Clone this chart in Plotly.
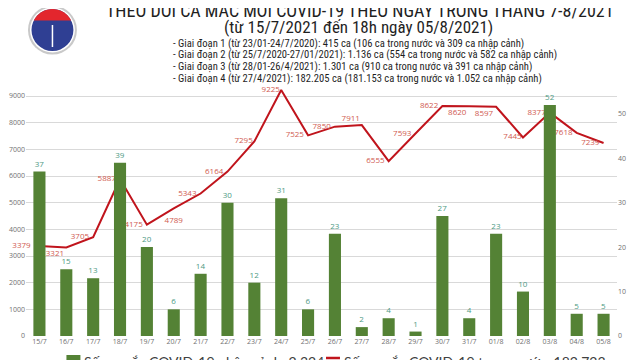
import numpy as np
import plotly.graph_objects as go

dates = ["15/7", "16/7", "17/7", "18/7", "19/7", "20/7", "21/7", "22/7", "23/7", "24/7", "25/7",
         "26/7", "27/7", "28/7", "29/7", "30/7", "31/7", "01/8", "02/8", "03/8", "04/8", "05/8"]
imported = [37, 15, 13, 39, 20, 6, 14, 30, 12, 31, 6, 23, 2, 4, 1, 27, 4, 23, 10, 52, 5, 5]
domestic = [3379, 3321, 3705, 5887, 4175, 4789, 5343, 6164, 7295, 9225, 7525, 7850, 7911, 6555,
            7593, 8622, 8620, 8597, 7445, 8377, 7618, 7239]

# label placement for the line's data labels (style only)
lbl_pos = ["middle left", "bottom left", "middle left", "middle left", "middle left", "bottom center",
           "middle left", "middle left", "middle left", "middle left", "middle left", "middle left",
           "top left", "middle left", "middle left", "middle left", "bottom left", "bottom left",
           "middle left", "middle left", "middle left", "middle left"]
lbl_pad = [12.5, 2, 5, 5, 5, 12.5, 5, 5, 1, 0.5, 5, 5, 1.5, 5, 5, 5, 3, 3.2, 0.5, 5, 5, 5]

title1 = "THEO DÕI CA MẮC MỚI COVID-19 THEO NGÀY TRONG THÁNG 7-8/2021"
title2 = "(từ 15/7/2021 đến 18h ngày 05/8/2021)"
notes = [
    "- Giai đoạn 1 (từ 23/01-24/7/2020): 415 ca (106 ca trong nước và 309 ca nhập cảnh)",
    "- Giai đoạn 2 (từ 25/7/2020-27/01/2021): 1.136 ca (554 ca trong nước và 582 ca nhập cảnh)",
    "- Giai đoạn 3 (từ 28/01-26/4/2021): 1.301 ca (910 ca trong nước và 391 ca nhập cảnh)",
    "- Giai đoạn 4 (từ 27/4/2021): 182.205 ca (181.153 ca trong nước và 1.052 ca nhập cảnh)",
]
legend_bar = "Số ca mắc COVID-19 nhập cảnh: 2.324 ca"
legend_line = "Số ca mắc COVID-19 trong nước: 182.723 ca"

OFF = 8
W, H = 640, 360
L, R, T, B = 17.5, 30.5, 80, 32
PW, PH = W - L - R, H - T - B


def px(x):
    return (x - OFF - L) / PW


def py(y):
    return (H - B - (y - OFF)) / PH


NARROW = "Liberation Sans Narrow, Roboto Condensed, Arial Narrow, sans-serif"
TICKFONT = dict(size=7, color="#707070", family="Open Sans")

fig = go.Figure()
fig.add_trace(go.Bar(
    x=dates, y=imported, yaxis="y2", name=legend_bar,
    marker=dict(color="#548235", line=dict(width=0)),
    text=imported, textposition="outside", cliponaxis=False,
    textfont=dict(size=8, color="#4e9a84", family="Open Sans"),
))
fig.add_trace(go.Scatter(
    x=dates, y=domestic, mode="lines+markers+text", name=legend_line,
    line=dict(color="#c0141c", width=2),
    marker=dict(size=lbl_pad, color="rgba(0,0,0,0)", line=dict(width=0)),
    text=domestic, textposition=lbl_pos, cliponaxis=False,
    textfont=dict(size=8, color="#d05a50", family="Open Sans"),
))

shapes = []
cx, cy = 52, 30


def circle(r, color):
    return dict(type="circle", xref="paper", yref="paper",
                x0=px(cx - r), x1=px(cx + r), y0=py(cy + r), y1=py(cy - r),
                fillcolor=color, line=dict(color=color, width=0), layer="above")


shapes.append(circle(24.5, "#c9c9c9"))
shapes.append(circle(22.5, "#ffffff"))
shapes.append(circle(21, "#2f3f93"))
r = 21
theta = np.linspace(np.radians(207), np.radians(333), 30)
pts = [(cx + r * np.cos(t), cy + r * np.sin(t)) for t in theta]
path = "M " + " L ".join(f"{px(a):.4f},{py(b):.4f}" for a, b in pts) + " Z"
shapes.append(dict(type="path", xref="paper", yref="paper", path=path,
                   fillcolor="#e3262d", line=dict(width=0), layer="above"))
shapes.append(dict(type="line", xref="paper", yref="paper", x0=px(cx), x1=px(cx),
                   y0=py(cy - 5), y1=py(cy + 17), line=dict(color="white", width=1.5), layer="above"))

shapes.append(dict(type="rect", xref="paper", yref="paper", x0=px(66), x1=px(80),
                   y0=py(370), y1=py(355), fillcolor="#548235", line=dict(width=0)))
shapes.append(dict(type="line", xref="paper", yref="paper", x0=px(326), x1=px(340),
                   y0=py(358), y1=py(358), line=dict(color="#c0141c", width=2.5)))

annotations = [
    dict(x=px(360), y=py(10), xref="paper", yref="paper", text=title1, showarrow=False,
         font=dict(size=18, color="#1f1f1f", family=NARROW), xanchor="center", yanchor="middle"),
    dict(x=px(359), y=py(27), xref="paper", yref="paper", text=title2, showarrow=False,
         font=dict(size=17, color="#1f1f1f", family=NARROW), xanchor="center", yanchor="middle"),
    dict(x=px(82), y=py(361), xref="paper", yref="paper", text=legend_bar, showarrow=False,
         font=dict(size=14, color="#404040", family="Lato"), xanchor="left", yanchor="middle"),
    dict(x=px(342), y=py(361), xref="paper", yref="paper", text=legend_line, showarrow=False,
         font=dict(size=14, color="#404040", family="Lato"), xanchor="left", yanchor="middle"),
]
for i, n in enumerate(notes):
    annotations.append(dict(x=px(171), y=py(43 + 11.7 * i), xref="paper", yref="paper", text=n,
                            showarrow=False, font=dict(size=10.6, color="#1f1f1f", family=NARROW),
                            xanchor="left", yanchor="middle"))

fig.update_layout(
    width=W, height=H,
    margin=dict(l=L, r=R, t=T, b=B, autoexpand=False),
    paper_bgcolor="white", plot_bgcolor="white",
    bargap=0.55,
    showlegend=False,
    xaxis=dict(type="category", range=[-0.5, 21.5], showgrid=False, showline=False, ticks="",
               automargin=False, tickfont=TICKFONT),
    yaxis=dict(range=[0, 9300], tickvals=list(range(0, 10000, 1000)), showgrid=True,
               gridcolor="#d9d9d9", gridwidth=1, zeroline=False, showline=False,
               automargin=False, tickfont=TICKFONT),
    yaxis2=dict(range=[0, 55.8], tickvals=[0, 10, 20, 30, 40, 50], overlaying="y", side="right",
                showgrid=False, zeroline=False, showline=False, automargin=False,
                tickfont=TICKFONT),
    shapes=shapes,
    annotations=annotations,
)

fig.write_html("out.html")
